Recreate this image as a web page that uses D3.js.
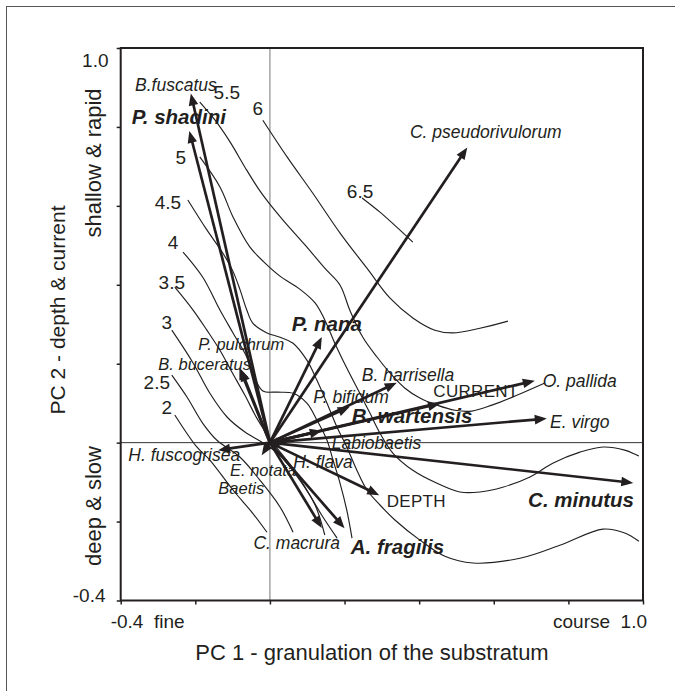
<!DOCTYPE html>
<html><head><meta charset="utf-8">
<script src="https://cdn.jsdelivr.net/npm/d3@7"></script>
<style>
body{margin:0;background:#fff}
text{font-family:"Liberation Sans",Arial,sans-serif;fill:#231f20}
</style>
</head><body>
<svg id="chart" width="675" height="691"></svg>
<script>
// ---------------- DATA ----------------
const species = ["B.fuscatus","P. shadini","P. pulchrum","B. buceratus","P. nana","C. pseudorivulorum",
  "B. harrisella","P. bifidum","B. wartensis","Labiobaetis","O. pallida","E. virgo","C. minutus",
  "A. fragilis","C. macrura","H. fuscogrisea","E. notata","H. flava","Baetis"];
const pc1 = [-0.212,-0.216,-0.078,-0.082,0.139,0.529,0.340,0.214,0.139,0.049,0.710,0.742,0.974,0.200,0.139,-0.139,-0.022,0.020,-0.010];
const pc2 = [0.885,0.790,0.186,0.190,0.268,0.748,0.152,0.091,0.030,0.003,0.157,0.061,-0.102,-0.217,-0.216,-0.019,-0.032,-0.012,-0.012];
const boldSpecies = ["P. shadini","P. nana","B. wartensis","C. minutus","A. fragilis"];

const envVars = ["CURRENT","DEPTH"];
const envPC1 = [0.456,0.293];
const envPC2 = [0.099,-0.133];

const contourLevels = ["2","2.5","3","3.5","4","4.5","5","5.5","6","6.5"];
const iso2 = [[-0.255,0.070],[-0.196,-0.011],[-0.161,-0.044],[-0.099,-0.120],[-0.046,-0.179],[-0.008,-0.227]];
const iso2_5 = [[-0.263,0.171],[-0.222,0.115],[-0.180,0.049],[-0.142,0.006],[-0.080,-0.037],[-0.027,-0.095],[0.027,-0.163],[0.062,-0.227]];
const iso3 = [[-0.263,0.285],[-0.206,0.202],[-0.161,0.125],[-0.115,0.065],[-0.067,0.027],[-0.021,0.001],[0.027,-0.032],[0.080,-0.095],[0.121,-0.158],[0.147,-0.234]];
const iso3_5 = [[-0.255,0.394],[-0.206,0.336],[-0.169,0.285],[-0.134,0.234],[-0.102,0.179],[-0.067,0.120],[-0.032,0.057],[0.013,-0.006],[0.062,-0.065],[0.102,-0.125],[0.139,-0.184],[0.180,-0.242]];
const iso4 = [[-0.233,0.483],[-0.180,0.419],[-0.134,0.336],[-0.099,0.278],[-0.062,0.217],[-0.040,0.163],[-0.019,0.131],[0.021,0.128],[0.062,0.125],[0.099,0.100],[0.126,0.057],[0.153,0.006],[0.169,-0.044],[0.188,-0.103],[0.206,-0.171],[0.220,-0.242]];
const iso4_5 = [[-0.220,0.615],[-0.169,0.539],[-0.126,0.480],[-0.099,0.434],[-0.080,0.387],[-0.062,0.336],[-0.046,0.303],[-0.008,0.278],[0.027,0.267],[0.062,0.252],[0.099,0.209],[0.126,0.158],[0.153,0.100],[0.180,0.039],[0.206,-0.011],[0.233,-0.070],[0.260,-0.120],[0.295,-0.158],[0.335,-0.196],[0.402,-0.247],[0.469,-0.288],[0.544,-0.305],[0.670,-0.293],[0.777,-0.260],[0.893,-0.219],[0.951,-0.229],[0.989,-0.250]];
const iso5 = [[-0.188,0.724],[-0.134,0.648],[-0.099,0.572],[-0.054,0.496],[-0.013,0.455],[0.027,0.422],[0.080,0.389],[0.121,0.354],[0.147,0.311],[0.174,0.252],[0.206,0.189],[0.241,0.125],[0.268,0.075],[0.295,0.024],[0.330,-0.027],[0.383,-0.070],[0.448,-0.103],[0.509,-0.125],[0.563,-0.125],[0.624,-0.113],[0.697,-0.087],[0.758,-0.052],[0.831,-0.024],[0.893,-0.011],[0.951,-0.019],[0.989,-0.034]];
const iso5_5 = [[-0.188,0.863],[-0.147,0.817],[-0.107,0.762],[-0.067,0.698],[-0.032,0.645],[-0.005,0.610],[0.035,0.564],[0.094,0.501],[0.147,0.442],[0.188,0.399],[0.214,0.336],[0.249,0.267],[0.287,0.217],[0.327,0.171],[0.362,0.138],[0.402,0.113],[0.448,0.095],[0.496,0.082],[0.541,0.080],[0.595,0.095],[0.657,0.118],[0.737,0.151]];
const iso6 = [[-0.019,0.817],[0.046,0.724],[0.115,0.632],[0.188,0.531],[0.260,0.442],[0.322,0.366],[0.383,0.316],[0.442,0.285],[0.490,0.278],[0.563,0.290],[0.638,0.308]];
const iso6_5 = [[0.247,0.620],[0.295,0.584],[0.348,0.539],[0.383,0.508]];
const contourPaths = [iso2,iso2_5,iso3,iso3_5,iso4,iso4_5,iso5,iso5_5,iso6,iso6_5];

const axisTicks = [-0.4,-0.2,0,0.2,0.4,0.6,0.8,1.0];
const xEndLabels = ["-0.4  fine","course  1.0"];
const yEndLabels = ["1.0","-0.4"];
const xTitle = "PC 1 - granulation of the substratum";
const yTitle = "PC 2 - depth & current";
const yHigh = "shallow & rapid";
const yLow = "deep & slow";

// ---------------- LAYOUT ----------------
const svg = d3.select("#chart");
const x = d3.scaleLinear().domain([-0.4,1.0]).range([120.7,643]);
const y = d3.scaleLinear().domain([-0.4,1.0]).range([600.5,48]);
const ink = "#231f20";

// outer border
svg.append("rect").attr("x",6.5).attr("y",6.5).attr("width",720).attr("height",720)
  .attr("fill","none").attr("stroke","#555").attr("stroke-width",1);

// reference lines through origin
svg.append("line").attr("x1",x(0)).attr("x2",x(0)).attr("y1",y(1.0)).attr("y2",y(-0.4))
  .attr("stroke","#777").attr("stroke-width",1);
svg.append("line").attr("x1",x(-0.4)).attr("x2",x(1.0)).attr("y1",y(0)).attr("y2",y(0))
  .attr("stroke","#333").attr("stroke-width",1);

// axes ticks
const gy = svg.append("g").attr("transform",`translate(${x(-0.4)},0)`)
  .call(d3.axisLeft(y).tickValues(axisTicks).tickSize(4).tickFormat(""));
const gx = svg.append("g").attr("transform",`translate(0,${y(-0.4)})`)
  .call(d3.axisBottom(x).tickValues(axisTicks).tickSize(4).tickFormat(""));
[gx,gy].forEach(g=>{g.select(".domain").remove(); g.selectAll("line").attr("stroke",ink).attr("stroke-width",1.5);});

// frame
svg.append("rect").attr("x",x(-0.4)).attr("y",y(1.0)).attr("width",x(1.0)-x(-0.4)).attr("height",y(-0.4)-y(1.0))
  .attr("fill","none").attr("stroke",ink).attr("stroke-width",2);

// contours
const line = d3.line().x(d=>x(d[0])).y(d=>y(d[1])).curve(d3.curveCatmullRom.alpha(0.5));
svg.append("g").selectAll("path").data(contourPaths).join("path")
  .attr("d",line).attr("fill","none").attr("stroke",ink).attr("stroke-width",1.15);

const contourLabelOffset = [[-8,-8],[-15,7],[-5,-8],[-3,-5],[-10,-10],[-20,3],[-19,1],[27,-10],[-5,-12],[-2,-6]];
svg.append("g").selectAll("text").data(contourLevels).join("text")
  .attr("x",(d,i)=>x(contourPaths[i][0][0])+contourLabelOffset[i][0])
  .attr("y",(d,i)=>y(contourPaths[i][0][1])+contourLabelOffset[i][1])
  .attr("text-anchor","middle").attr("dominant-baseline","central")
  .attr("font-size",19).text(d=>d);

// arrows
const ox = x(0), oy = y(0);
const ag = svg.append("g");
function arrow(px,py,sw){
  const dx=px-ox, dy=py-oy, L=Math.hypot(dx,dy);
  const ux=dx/L, uy=dy/L;
  const hl = 12, hw = 4.8;
  if (L < 10){
    ag.append("line").attr("x1",ox).attr("y1",oy).attr("x2",px).attr("y2",py)
      .attr("stroke",ink).attr("stroke-width",sw);
    return;
  }
  const bx=px-ux*hl, by=py-uy*hl;
  ag.append("line").attr("x1",ox).attr("y1",oy).attr("x2",px-ux*hl*0.7).attr("y2",py-uy*hl*0.7)
    .attr("stroke",ink).attr("stroke-width",sw);
  ag.append("polygon").attr("points",[[px,py],[bx-uy*hw,by+ux*hw],[bx+uy*hw,by-ux*hw]].map(p=>p.join(",")).join(" "))
    .attr("fill",ink);
}
species.forEach((s,i)=>arrow(x(pc1[i]),y(pc2[i]),2.7));
envVars.forEach((s,i)=>arrow(x(envPC1[i]),y(envPC2[i]),2.7));

// species labels: pixel offsets from arrow tip [dx, dy, anchor, size]
const labelLayout = {
  "B.fuscatus":[-55.8,-8.4,"start",17.5], "P. shadini":[-57.6,-14.1,"start",20.5],
  "P. pulchrum":[-42.5,-25,"start",16.5], "B. buceratus":[-81,-4,"start",16.5],
  "P. nana":[-30.1,-13.5,"start",20.5], "C. pseudorivulorum":[-57.3,-15.7,"start",17.5],
  "B. harrisella":[-35,-7.6,"start",17.5], "P. bifidum":[-36.4,-9.4,"start",17.5],
  "B. wartensis":[29.9,-15.8,"start",20.5], "Labiobaetis":[43.5,1.3,"start",17.5],
  "O. pallida":[7.9,0,"start",17.5], "E. virgo":[3.3,3.2,"start",17.5],
  "C. minutus":[0.7,16.4,"end",20.5], "A. fragilis":[6.2,17.8,"start",20.5],
  "C. macrura":[18.2,15.5,"end",17.5], "H. fuscogrisea":[-89.7,4.9,"start",17.5],
  "E. notata":[-31.7,14.5,"start",16.5], "H. flava":[15.9,14.4,"start",17.5],
  "Baetis":[-47.9,40.5,"start",16.5]
};
const lg = svg.append("g");
species.forEach((s,i)=>{
  const L = labelLayout[s], bold = boldSpecies.includes(s);
  lg.append("text").attr("x",x(pc1[i])+L[0]).attr("y",y(pc2[i])+L[1])
    .attr("text-anchor",L[2]).attr("dominant-baseline","central")
    .attr("font-style","italic").attr("font-weight",bold?"bold":"normal")
    .attr("font-size",L[3]).text(s);
});
const envLayout = {"CURRENT":[-6.7,-11.8],"DEPTH":[7.5,6.6]};
envVars.forEach((s,i)=>{
  lg.append("text").attr("x",x(envPC1[i])+envLayout[s][0]).attr("y",y(envPC2[i])+envLayout[s][1])
    .attr("dominant-baseline","central").attr("font-size",17).attr("letter-spacing",0.3).text(s);
});

// axis end labels
svg.append("text").attr("x",108.5).attr("y",y(1.0)+12).attr("text-anchor","end")
  .attr("dominant-baseline","central").attr("font-size",19).text(yEndLabels[0]);
svg.append("text").attr("x",105.5).attr("y",y(-0.4)-5.5).attr("text-anchor","end")
  .attr("dominant-baseline","central").attr("font-size",19).text(yEndLabels[1]);
svg.append("text").attr("x",x(-0.4)-10).attr("y",621).attr("dominant-baseline","central")
  .attr("font-size",19).style("white-space","pre").text(xEndLabels[0]);
svg.append("text").attr("x",x(1.0)+4).attr("y",621).attr("text-anchor","end").attr("dominant-baseline","central")
  .attr("font-size",19).style("white-space","pre").text(xEndLabels[1]);

// axis titles
svg.append("text").attr("x",372).attr("y",652).attr("text-anchor","middle")
  .attr("dominant-baseline","central").attr("font-size",22).text(xTitle);
svg.append("text").attr("transform","translate(57,310) rotate(-90)").attr("text-anchor","middle")
  .attr("dominant-baseline","central").attr("font-size",21).text(yTitle);
svg.append("text").attr("transform","translate(93,163) rotate(-90)").attr("text-anchor","middle")
  .attr("dominant-baseline","central").attr("font-size",22).text(yHigh);
svg.append("text").attr("transform","translate(93,506) rotate(-90)").attr("text-anchor","middle")
  .attr("dominant-baseline","central").attr("font-size",22).text(yLow);
</script>
</body></html>
